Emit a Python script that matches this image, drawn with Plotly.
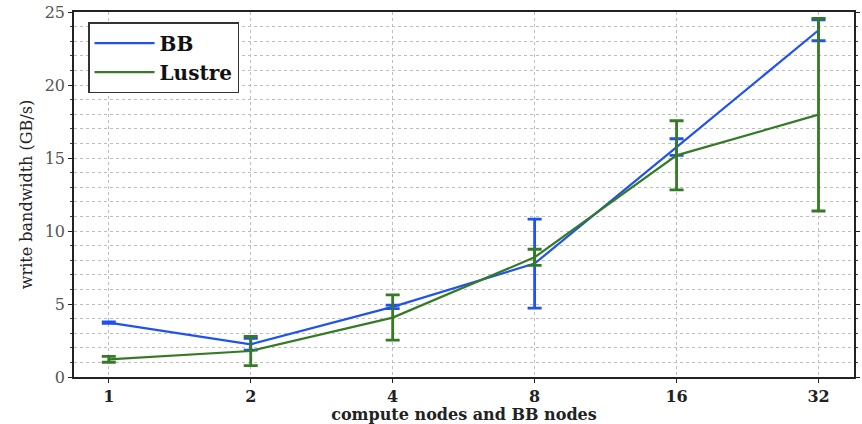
import plotly.graph_objects as go

# node counts (compute nodes = BB nodes)
nodes = [1, 2, 4, 8, 16, 32]
tick_labels = ["1", "2", "4", "8", "16", "32"]

# write bandwidth in GB/s and error half-widths
bb_bw = [3.73, 2.24, 4.8, 7.77, 15.75, 23.75]
bb_err = [0.05, 0.4, 0.12, 3.05, 0.57, 0.72]
lustre_bw = [1.21, 1.78, 4.07, 8.2, 15.18, 17.97]
lustre_err = [0.2, 1.0, 1.55, 0.55, 2.37, 6.6]

BLUE = "#1f52f0"
GREEN = "#357a25"
SERIF = "DejaVu Serif"

fig = go.Figure()
fig.add_trace(go.Scatter(
    x=nodes, y=bb_bw, name="BB", mode="lines",
    line=dict(color=BLUE, width=2.2),
    error_y=dict(type="data", array=bb_err, color=BLUE, thickness=2.8, width=7),
))
fig.add_trace(go.Scatter(
    x=nodes, y=lustre_bw, name="Lustre", mode="lines",
    line=dict(color=GREEN, width=2.2),
    error_y=dict(type="data", array=lustre_err, color=GREEN, thickness=2.8, width=7),
))

log2 = 0.30103
fig.update_layout(
    width=862, height=424,
    margin=dict(l=74, r=2, t=12, b=47),
    plot_bgcolor="white", paper_bgcolor="white",
    font=dict(family=SERIF, color="#222"),
    showlegend=True,
    legend=dict(
        x=0.018, y=0.972, xanchor="left", yanchor="top",
        bordercolor="#333", borderwidth=1.5, bgcolor="white",
        font=dict(family=SERIF, size=20, color="#111", weight="bold"),
        itemwidth=60, tracegroupgap=2,
    ),
    xaxis=dict(
        type="log",
        range=[-0.245 * log2, 5.25 * log2],
        tickvals=nodes, ticktext=tick_labels,
        tickfont=dict(family=SERIF, size=16, color="#222", weight="bold"),
        showgrid=True, gridcolor="#bdbdbd", griddash="dot", gridwidth=1,
        showline=True, linecolor="#222", linewidth=1.5, mirror=True,
        ticks="outside", ticklen=4, tickcolor="#222",
        title=dict(text="compute nodes and BB nodes", standoff=4,
                   font=dict(family=SERIF, size=16, color="#222", weight="bold")),
        zeroline=False,
    ),
    yaxis=dict(
        range=[0, 25], dtick=5,
        tickfont=dict(family=SERIF, size=16, color="#555"),
        showgrid=True, gridcolor="#bdbdbd", griddash="dot", gridwidth=1,
        minor=dict(dtick=1, showgrid=True, gridcolor="#bdbdbd", griddash="dot",
                   gridwidth=1, ticks="outside", ticklen=2, tickcolor="#444"),
        showline=True, linecolor="#222", linewidth=1.5, mirror="ticks",
        ticks="outside", ticklen=4, tickcolor="#222",
        title=dict(text="write bandwidth (GB/s)", standoff=8,
                   font=dict(family=SERIF, size=16, color="#222")),
        zeroline=False,
    ),
)

fig.write_html("out.html")
